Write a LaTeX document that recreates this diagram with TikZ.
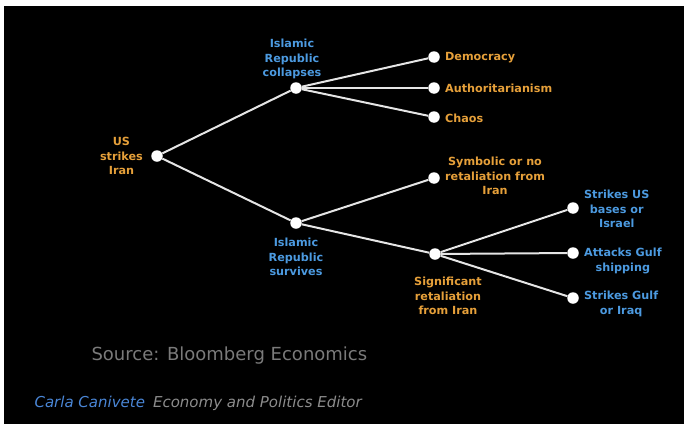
\documentclass[tikz,border=0pt]{standalone}
\usepackage{fontspec}
\setmainfont{DejaVu Sans}
\usetikzlibrary{positioning}
\definecolor{treeorange}{HTML}{E6A03A}
\definecolor{treeblue}{HTML}{4C9AE0}
\definecolor{sourcegrey}{HTML}{7A7A7A}
\definecolor{editorblue}{HTML}{4A86D6}
\definecolor{editorgrey}{HTML}{8C8C8C}

\begin{document}
\begin{tikzpicture}[x=1pt, y=-1pt,
    dot/.style={circle, fill=white, inner sep=0pt, minimum size=11.5pt},
    branch/.style={draw=white!90!black, line width=2pt},
    orangelabel/.style={text=treeorange, font=\bfseries\fontsize{11.2}{14.5}\selectfont, align=center, inner sep=1pt},
    bluelabel/.style={text=treeblue, font=\bfseries\fontsize{11.2}{14.5}\selectfont, align=center, inner sep=1pt}]
    \useasboundingbox (0,0) rectangle (684,423);
    \fill[white] (0,0) rectangle (684,423);
    \fill[black] (4,6) rectangle (690,430);

    % Decision points
    \node[dot] (us) at (157,156) {};
    \node[dot] (collapse) at (296,88) {};
    \node[dot] (survive) at (296,223) {};
    \node[dot] (democracy) at (434,57) {};
    \node[dot] (autho) at (434,88) {};
    \node[dot] (chaos) at (434,117) {};
    \node[dot] (symbolic) at (434,178) {};
    \node[dot] (signif) at (435,254) {};
    \node[dot] (usbases) at (573,208) {};
    \node[dot] (gulfship) at (573,253) {};
    \node[dot] (gulfiraq) at (573,298) {};

    % Branches
    \draw[branch] (us) -- (collapse);
    \draw[branch] (us) -- (survive);
    \draw[branch] (collapse) -- (democracy);
    \draw[branch] (collapse) -- (autho);
    \draw[branch] (collapse) -- (chaos);
    \draw[branch] (survive) -- (symbolic);
    \draw[branch] (survive) -- (signif);
    \draw[branch] (signif) -- (usbases);
    \draw[branch] (signif) -- (gulfship);
    \draw[branch] (signif) -- (gulfiraq);

    % Labels
    \node[orangelabel, left=7pt of us] (us_label) {US\\strikes\\Iran};
    \node[bluelabel, above=2pt of collapse, xshift=-4pt] (collapse_label) {Islamic\\Republic\\collapses};
    \node[bluelabel, below=8pt of survive] (survive_label) {Islamic\\Republic\\survives};
    \node[orangelabel, right=4pt of democracy, yshift=-1pt] (democracy_label) {Democracy};
    \node[orangelabel, right=4pt of autho] (autho_label) {Authoritarianism};
    \node[orangelabel, right=4pt of chaos, yshift=-1pt] (chaos_label) {Chaos};
    \node[orangelabel, right=4pt of symbolic, yshift=2pt] (symbolic_label) {Symbolic or no\\retaliation from\\Iran};
    \node[orangelabel, below=16pt of signif, xshift=13pt] (signif_label) {Significant\\retaliation\\from Iran};
    \node[bluelabel, right=4pt of usbases, yshift=-1pt] (usbases_label) {Strikes US\\bases or\\Israel};
    \node[bluelabel, right=4pt of gulfship, yshift=-8pt] (gulfship_label) {Attacks Gulf\\shipping};
    \node[bluelabel, right=4pt of gulfiraq, yshift=-6pt] (gulfiraq_label) {Strikes Gulf\\or Iraq};

    % Credits
    \node[text=sourcegrey, font=\fontsize{18}{20}\selectfont, anchor=west] (source) at (88,356) {Source: Bloomberg Economics};
    \node[font=\itshape\fontsize{15}{17}\selectfont, anchor=west] (editor) at (31,403) {\textcolor{editorblue}{Carla Canivete}\hspace{8pt}\textcolor{editorgrey}{Economy and Politics Editor}};
\end{tikzpicture}
\end{document}
